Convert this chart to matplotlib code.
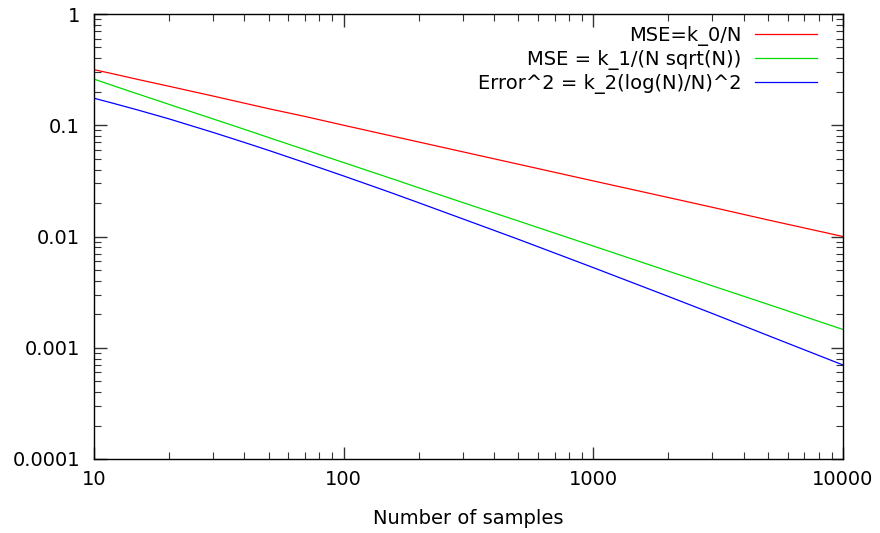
import numpy as np
import matplotlib
matplotlib.use('Agg')
import matplotlib.pyplot as plt
from matplotlib.ticker import LogLocator, NullFormatter, FixedLocator, FixedFormatter

# Valores
n_samples = [10, 12, 15, 20, 30, 40, 50, 70, 100, 150, 200, 300, 500, 1000, 2000, 3000, 5000, 10000]
mse_k0 = [0.316, 0.289, 0.258, 0.224, 0.183, 0.158, 0.141, 0.120, 0.100, 0.0816, 0.0707, 0.0577, 0.0447,
          0.0316, 0.0224, 0.0183, 0.0141, 0.0100]
mse_k1 = [0.260, 0.226, 0.191, 0.154, 0.114, 0.0920, 0.0777, 0.0603, 0.0462, 0.0341, 0.0274, 0.0202, 0.0138,
          0.00821, 0.00488, 0.00360, 0.00246, 0.00146]
err_k2 = [0.175, 0.157, 0.137, 0.114, 0.0862, 0.0701, 0.0595, 0.0461, 0.0350, 0.0254, 0.0201, 0.0144, 0.00945,
          0.00525, 0.00289, 0.00203, 0.00129, 0.00070]

labels = ['MSE=k_0/N', 'MSE = k_1/(N sqrt(N))', 'Error^2 = k_2(log(N)/N)^2']
colors = ['#ff0000', '#00dd00', '#0000ff']

yticks = [1, 0.1, 0.01, 0.001, 0.0001]
ytick_labels = ['1', '0.1', '0.01', '0.001', '0.0001']
xticks = [10, 100, 1000, 10000]
xtick_labels = ['10', '100', '1000', '10000']

fig = plt.figure(figsize=(8.8, 5.33), dpi=100)
ax = fig.add_axes([94 / 880, 1 - 459 / 533, (843 - 94) / 880, (459 - 14) / 533])

for y, lab, c in zip([mse_k0, mse_k1, err_k2], labels, colors):
    ax.plot(n_samples, y, color=c, linewidth=0.9, label=lab)

ax.set_xscale('log')
ax.set_yscale('log')
ax.set_xlim(10, 10000)
ax.set_ylim(0.0001, 1)

ax.xaxis.set_major_locator(FixedLocator(xticks))
ax.xaxis.set_major_formatter(FixedFormatter(xtick_labels))
ax.yaxis.set_major_locator(FixedLocator(yticks))
ax.yaxis.set_major_formatter(FixedFormatter(ytick_labels))
ax.xaxis.set_minor_locator(LogLocator(base=10, subs=np.arange(2, 10)))
ax.yaxis.set_minor_locator(LogLocator(base=10, subs=np.arange(2, 10)))
ax.xaxis.set_minor_formatter(NullFormatter())
ax.yaxis.set_minor_formatter(NullFormatter())

ax.tick_params(which='both', direction='in', top=True, right=True, color='#333333')
ax.tick_params(which='major', length=9, width=1, labelsize=14)
ax.tick_params(axis='y', which='major', pad=10)
ax.tick_params(axis='x', which='major', pad=8)
ax.tick_params(which='minor', length=5, width=0.8)
for s in ax.spines.values():
    s.set_linewidth(1)

ax.set_xlabel('Number of samples', fontsize=14, labelpad=14)

ax.legend(loc='upper right', frameon=False, markerfirst=False, fontsize=14,
          handlelength=3.2, handletextpad=0.7, labelspacing=0.2,
          borderaxespad=0.0, bbox_to_anchor=(1 - 18 / 749, 1 - 4 / 445))

fig.savefig('out.png', dpi=100)
